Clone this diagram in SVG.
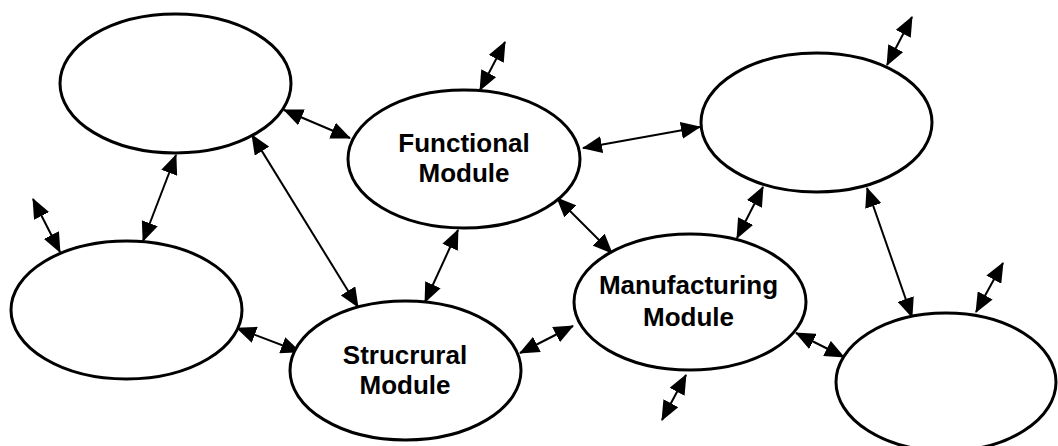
<svg xmlns="http://www.w3.org/2000/svg" width="1058" height="446" viewBox="0 0 1058 446">
<style>
.node ellipse{fill:#fff;stroke:#000;stroke-width:3}
.node text{font-family:"Liberation Sans",Arial,sans-serif;font-weight:bold;font-size:26px;text-anchor:middle;fill:#000}
#connectors line{stroke:#000;stroke-width:2;marker-start:url(#ah);marker-end:url(#ah)}
</style>
<defs>
<marker id="ah" markerUnits="userSpaceOnUse" markerWidth="20" markerHeight="17" refX="19" refY="8.5" orient="auto-start-reverse" viewBox="0 0 20 17">
<path d="M0,0 L20,8.5 L0,17 z" fill="#000"/>
</marker>
</defs>
<rect width="1058" height="446" fill="#fff"/>
<g id="connectors">
<line x1="33" y1="199" x2="60" y2="252"/>
<line x1="284" y1="110" x2="350" y2="138"/>
<line x1="176" y1="155" x2="143" y2="241"/>
<line x1="252" y1="135" x2="358" y2="307"/>
<line x1="505" y1="42" x2="480" y2="90"/>
<line x1="583" y1="148" x2="700" y2="127"/>
<line x1="557" y1="198" x2="612" y2="253"/>
<line x1="458" y1="230" x2="425" y2="302"/>
<line x1="237" y1="328" x2="300" y2="352"/>
<line x1="520" y1="353" x2="573" y2="326"/>
<line x1="912" y1="17" x2="887" y2="65"/>
<line x1="763" y1="187" x2="737" y2="238"/>
<line x1="867" y1="188" x2="912" y2="317"/>
<line x1="686" y1="375" x2="662" y2="420"/>
<line x1="796" y1="333" x2="844" y2="357"/>
<line x1="1003" y1="263" x2="976" y2="312"/>
</g>
<g id="node-topleft" class="node"><ellipse cx="175.5" cy="83.5" rx="115.5" ry="69.5"/></g>
<g id="node-functional" class="node"><ellipse cx="464" cy="159" rx="116" ry="69"/>
<text x="464" y="152">Functional</text><text x="464" y="182">Module</text></g>
<g id="node-topright" class="node"><ellipse cx="816.5" cy="122.5" rx="115.5" ry="69.5"/></g>
<g id="node-left" class="node"><ellipse cx="126.5" cy="310" rx="115.5" ry="69"/></g>
<g id="node-structural" class="node"><ellipse cx="405.5" cy="370.5" rx="115.5" ry="69.5"/>
<text x="405" y="364">Strucrural</text><text x="405" y="394">Module</text></g>
<g id="node-manufacturing" class="node"><ellipse cx="690" cy="302" rx="116" ry="68"/>
<text x="688.5" y="294">Manufacturing</text><text x="688.5" y="326">Module</text></g>
<g id="node-bottomright" class="node"><ellipse cx="946" cy="382" rx="110" ry="69"/></g>
</svg>
